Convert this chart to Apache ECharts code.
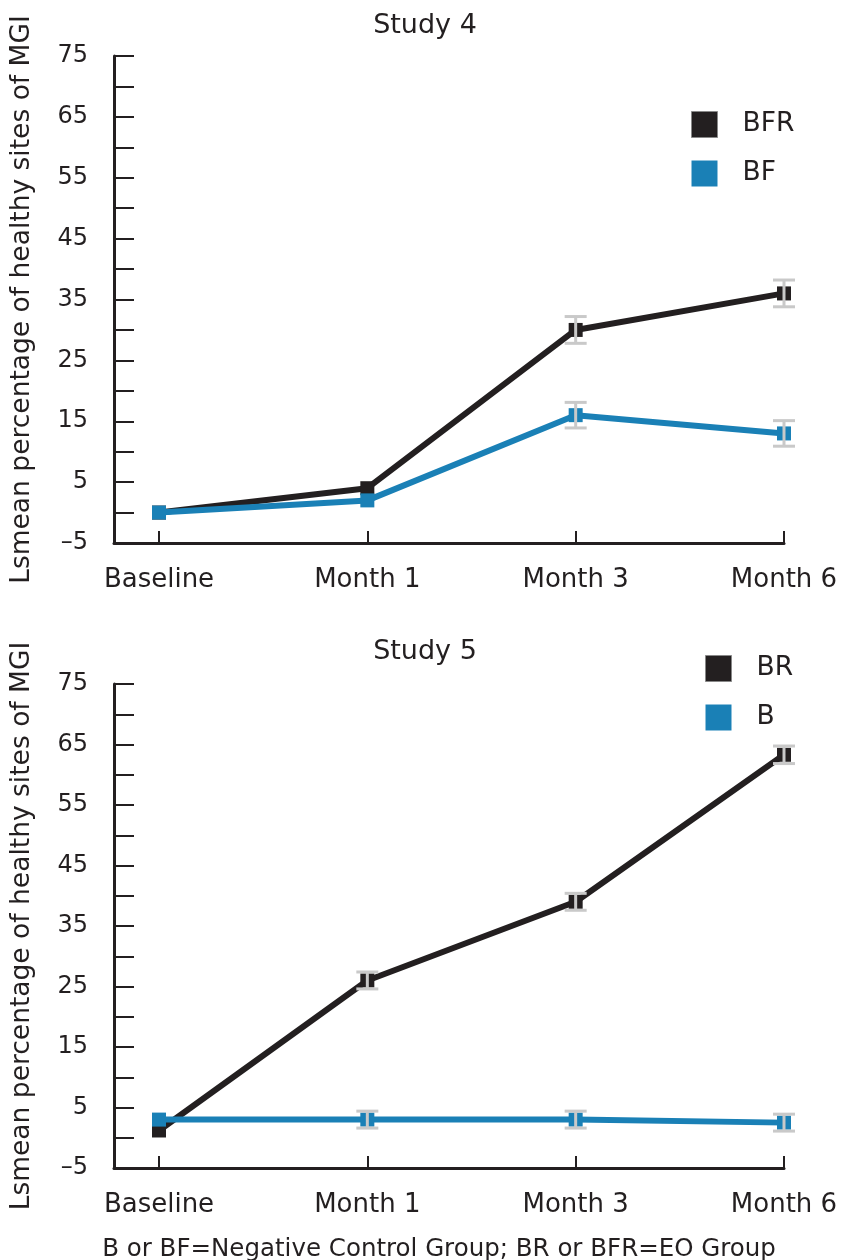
<!DOCTYPE html>
<html>
<head>
<meta charset="utf-8">
<script src="https://cdn.jsdelivr.net/npm/echarts@6/dist/echarts.min.js"></script>
<style>
html,body{margin:0;padding:0;background:#fff;}
#c{width:842px;height:1260px;}
</style>
</head>
<body>
<div id="c"></div>
<script>
// ---- data ----
const categories = ['Baseline', 'Month 1', 'Month 3', 'Month 6'];
const study4BFR = [0, 4, 30, 36];
const study4BF = [0, 2, 16, 13];
const study4BFRerr = [null, null, 2.2, 2.2];
const study4BFerr = [null, null, 2.1, 2.1];
const study5BR = [1.2, 26, 39, 63.3];
const study5B = [3, 3, 3, 2.5];
const study5BRerr = [null, 1.4, 1.4, 1.45];
const study5Berr = [null, 1.4, 1.4, 1.4];
const yMin = -5, yMax = 75, yStep = 5;
const titles = ['Study 4', 'Study 5'];
const yName = 'Lsmean percentage of healthy sites of MGI';
const footer = 'B or BF=Negative Control Group; BR or BFR=EO Group';

const DARK = '#231f20', BLUE = '#1a80b6', GREY = '#c9c9c9';
const FONT = 'DejaVu Sans';

function errData(vals, errs) {
  const out = [];
  vals.forEach((v, i) => { if (errs[i] != null) out.push([i, v - errs[i], v + errs[i]]); });
  return out;
}
function renderErr(params, api) {
  const x = api.value(0), lo = api.value(1), hi = api.value(2);
  const pt = api.coord([x, hi]), pb = api.coord([x, lo]);
  const w = 11;
  const st = { stroke: GREY, lineWidth: 3 };
  return { type: 'group', children: [
    { type: 'line', shape: { x1: pt[0], y1: pt[1], x2: pb[0], y2: pb[1] }, style: st },
    { type: 'line', shape: { x1: pt[0] - w, y1: pt[1], x2: pt[0] + w, y2: pt[1] }, style: st },
    { type: 'line', shape: { x1: pb[0] - w, y1: pb[1], x2: pb[0] + w, y2: pb[1] }, style: st }
  ]};
}
function yLabel(v) {
  if (v === -5) return '\u20135';
  return (Math.abs(v) % 10 === 5) ? String(v) : '';
}

const panels = [
  { top: 56, bottom: 717, names: ['BFR', 'BF'], vals: [study4BFR, study4BF], errs: [study4BFRerr, study4BFerr], titleTop: 7, legendTop: 111, legendLeft: 691 },
  { top: 684, bottom: 92, names: ['BR', 'B'], vals: [study5BR, study5B], errs: [study5BRerr, study5Berr], titleTop: 633, legendTop: 655, legendLeft: 705 }
];

const grid = [], xAxis = [], yAxis = [], series = [], legend = [], title = [];
panels.forEach((p, k) => {
  const gA = grid.length, gB = gA + 1;
  grid.push({ left: 114, right: 58, top: p.top, bottom: p.bottom });
  grid.push({ left: 159, right: 58, top: p.top, bottom: p.bottom });
  xAxis.push({ gridIndex: gA, type: 'value', min: 0, max: 1,
    axisLine: { show: true, onZero: false, lineStyle: { color: DARK, width: 3 } },
    axisTick: { show: false }, axisLabel: { show: false }, splitLine: { show: false } });
  xAxis.push({ gridIndex: gB, type: 'category', data: categories, boundaryGap: false,
    axisLine: { show: false, onZero: false },
    axisTick: { show: true, inside: true, length: 12, lineStyle: { color: DARK, width: 2 } },
    axisLabel: { fontFamily: FONT, fontSize: 26, color: DARK, margin: 24 },
    splitLine: { show: false } });
  yAxis.push({ gridIndex: gA, type: 'value', min: yMin, max: yMax, interval: yStep,
    name: yName, nameLocation: 'middle', nameGap: 78,
    nameTextStyle: { fontFamily: FONT, fontSize: 26.5, color: DARK },
    axisLine: { show: true, onZero: false, lineStyle: { color: DARK, width: 3 } },
    axisTick: { show: true, inside: true, length: 20, lineStyle: { color: DARK, width: 2 } },
    axisLabel: { fontFamily: FONT, fontSize: 24, color: DARK, margin: 26, formatter: yLabel },
    splitLine: { show: false } });
  yAxis.push({ gridIndex: gB, type: 'value', min: yMin, max: yMax, interval: yStep, show: false });
  title.push({ text: titles[k], left: 420, top: p.titleTop, textAlign: 'center',
    textStyle: { fontFamily: FONT, fontSize: 27, fontWeight: 'normal', color: DARK } });
  const colors = [DARK, BLUE];
  p.names.forEach((nm, j) => {
    series.push({ name: nm, type: 'line', xAxisIndex: gB, yAxisIndex: gB, data: p.vals[j],
      symbol: 'rect', symbolSize: 14, showSymbol: true,
      lineStyle: { color: colors[j], width: 6 },
      itemStyle: { color: colors[j] }, z: 2 + j, animation: false });
  });
  p.names.forEach((nm, j) => {
    series.push({ type: 'custom', xAxisIndex: gB, yAxisIndex: gB, renderItem: renderErr,
      data: errData(p.vals[j], p.errs[j]), encode: { x: 0, y: [1, 2] }, z: 10, animation: false });
  });
  legend.push({ data: p.names.map((nm, j) => ({ name: nm, itemStyle: { color: colors[j], borderColor: j === 0 ? '#888' : colors[j], borderWidth: j === 0 ? 1 : 0 } })),
    orient: 'vertical', left: p.legendLeft, top: p.legendTop, padding: 0,
    icon: 'rect', itemWidth: 26, itemHeight: 26, itemGap: 22, selectedMode: false,
    textStyle: { fontFamily: FONT, fontSize: 26.5, color: DARK, padding: [3, 0, 0, 20] } });
});
title.push({ text: footer, left: 434, top: 1232, textAlign: 'center',
  textStyle: { fontFamily: FONT, fontSize: 24.5, fontWeight: 'normal', color: DARK } });

const chart = echarts.init(document.getElementById('c'), null, { renderer: 'canvas' });
chart.setOption({ animation: false, backgroundColor: '#fff', title, legend, grid, xAxis, yAxis, series });
</script>
</body>
</html>
